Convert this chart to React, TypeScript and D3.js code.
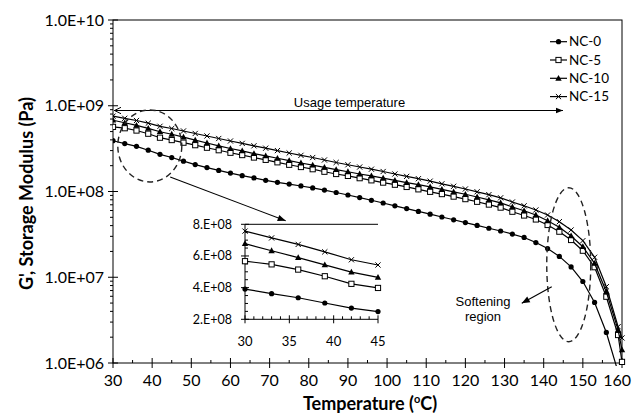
import React from "react";
import * as d3 from "d3";

// Temperature sweep (°C); the last point is at the axis end
const temperature = [
  30, 33, 36, 39, 42, 45, 48, 51, 54, 57, 60, 63, 66, 69, 72, 75, 78, 81, 84, 87,
  90, 93, 96, 99, 102, 105, 108, 111, 114, 117, 120, 123, 126, 129, 132, 135,
  138, 141, 144, 147, 150, 153, 156, 159, 160,
];

// Storage modulus G' (Pa)
const nc0 = [
  3.91e8, 3.62e8, 3.36e8, 3.03e8, 2.71e8, 2.49e8, 2.26e8, 2.06e8, 1.9e8, 1.76e8,
  1.64e8, 1.53e8, 1.44e8, 1.35e8, 1.28e8, 1.22e8, 1.16e8, 1.1e8, 1.04e8, 9.73e7,
  9.1e7, 8.49e7, 7.9e7, 7.34e7, 6.81e7, 6.32e7, 5.86e7, 5.44e7, 5.04e7, 4.68e7,
  4.34e7, 4.02e7, 3.73e7, 3.46e7, 3.19e7, 2.91e7, 2.54e7, 2.16e7, 1.75e7, 1.32e7,
  8.92e6, 5.08e6, 2.27e6, 7.85e5,
];
const nc5 = [
  5.67e8, 5.47e8, 5.14e8, 4.72e8, 4.24e8, 3.98e8, 3.71e8, 3.47e8, 3.24e8, 3.03e8,
  2.83e8, 2.66e8, 2.49e8, 2.34e8, 2.19e8, 2.05e8, 1.93e8, 1.82e8, 1.7e8, 1.6e8,
  1.52e8, 1.43e8, 1.35e8, 1.27e8, 1.2e8, 1.13e8, 1.06e8, 9.92e7, 9.33e7, 8.72e7,
  8.15e7, 7.59e7, 7.04e7, 6.49e7, 5.81e7, 5.25e7, 4.72e7, 4.07e7, 3.4e7, 2.72e7,
  2.04e7, 1.31e7, 5.93e6, 2.12e6, 1.03e6,
];
const nc10 = [
  6.78e8, 6.33e8, 5.9e8, 5.44e8, 4.98e8, 4.65e8, 4.3e8, 3.98e8, 3.68e8, 3.41e8,
  3.17e8, 2.97e8, 2.77e8, 2.6e8, 2.44e8, 2.29e8, 2.15e8, 2.03e8, 1.91e8, 1.8e8,
  1.7e8, 1.6e8, 1.52e8, 1.43e8, 1.35e8, 1.27e8, 1.2e8, 1.13e8, 1.06e8, 9.92e7,
  9.28e7, 8.63e7, 8.0e7, 7.38e7, 6.6e7, 5.96e7, 5.32e7, 4.56e7, 3.82e7, 3.03e7,
  2.27e7, 1.45e7, 6.78e6, 2.43e6, 1.42e6,
];
const nc15 = [
  7.57e8, 7.14e8, 6.73e8, 6.26e8, 5.76e8, 5.43e8, 5.08e8, 4.75e8, 4.44e8, 4.15e8,
  3.88e8, 3.64e8, 3.41e8, 3.2e8, 3.0e8, 2.81e8, 2.64e8, 2.49e8, 2.33e8, 2.18e8,
  2.05e8, 1.93e8, 1.82e8, 1.71e8, 1.6e8, 1.5e8, 1.41e8, 1.32e8, 1.23e8, 1.15e8,
  1.07e8, 9.92e7, 9.18e7, 8.44e7, 7.54e7, 6.81e7, 6.09e7, 5.32e7, 4.45e7, 3.56e7,
  2.67e7, 1.71e7, 7.76e6, 2.65e6, 1.96e6,
];

const seriesNames = ["NC-0", "NC-5", "NC-10", "NC-15"];
const seriesValues = [nc0, nc5, nc10, nc15];
const seriesMarkers = ["circle", "square", "triangle", "cross"];

const xTicks = [30, 40, 50, 60, 70, 80, 90, 100, 110, 120, 130, 140, 150, 160];
const yTickLabels = ["1.0E+06", "1.0E+07", "1.0E+08", "1.0E+09", "1.0E+10"];
const yTicks = [1e6, 1e7, 1e8, 1e9, 1e10];

const insetXTicks = [30, 35, 40, 45];
const insetYTicks = [2e8, 4e8, 6e8, 8e8];
const insetYLabels = ["2.E+08", "4.E+08", "6.E+08", "8.E+08"];

const W = 633;
const H = 417;
const M = { left: 113, right: 622, top: 20, bottom: 363 };
const INSET = { left: 245, right: 378, top: 224.3, bottom: 319.3 };

const LABEL_FONT = "Lato, 'Open Sans', sans-serif";
const NOTE_FONT = "'Liberation Sans', Arial, sans-serif";

function Marker({ kind, cx, cy }: { kind: string; cx: number; cy: number }) {
  if (kind === "circle") return <circle cx={cx} cy={cy} r={2.6} fill="#000" />;
  if (kind === "square")
    return (
      <rect x={cx - 2.6} y={cy - 2.6} width={5.2} height={5.2} fill="#fff" stroke="#000" strokeWidth={1} />
    );
  if (kind === "triangle")
    return <path d={`M${cx},${cy - 3.4}L${cx + 3.2},${cy + 2.4}L${cx - 3.2},${cy + 2.4}Z`} fill="#000" />;
  return (
    <path
      d={`M${cx - 2.6},${cy - 2.6}L${cx + 2.6},${cy + 2.6}M${cx - 2.6},${cy + 2.6}L${cx + 2.6},${cy - 2.6}`}
      stroke="#000"
      strokeWidth={1}
    />
  );
}

function arrowHead(x1: number, y1: number, x2: number, y2: number, len = 7, half = 3) {
  const a = Math.atan2(y2 - y1, x2 - x1);
  const bx = x2 - len * Math.cos(a);
  const by = y2 - len * Math.sin(a);
  const px = -Math.sin(a) * half;
  const py = Math.cos(a) * half;
  return `M${x2},${y2}L${bx + px},${by + py}L${bx - px},${by - py}Z`;
}

export default function App() {
  const x = d3.scaleLinear().domain([30, 160]).range([M.left, M.right]);
  const y = d3.scaleLog().domain([1e6, 1e10]).range([M.bottom, M.top]);
  const xi = d3.scaleLinear().domain([30, 45]).range([INSET.left, INSET.right]);
  const yi = d3.scaleLinear().domain([2e8, 8e8]).range([INSET.bottom, INSET.top]);

  const minorY: number[] = [];
  for (let e = 6; e < 10; e++) for (let k = 2; k <= 9; k++) minorY.push(k * Math.pow(10, e));
  const minorX = d3.range(35, 160, 10);

  const insetMinorX = d3.range(30, 45.01, 1).filter((t) => t % 5 !== 0);
  const insetMinorY = d3.range(2.5e8, 8e8, 0.5e8).filter((v) => Math.round(v / 1e8 * 2) % 4 !== 0);

  const line = (sx: any, sy: any) =>
    d3
      .line<[number, number]>()
      .x((d) => sx(d[0]))
      .y((d) => sy(d[1]));

  const mainLine = line(x, y);
  const insetLine = line(xi, yi);

  const pairs = seriesValues.map((vals) => vals.map((v, i) => [temperature[i], v] as [number, number]));
  const insetPairs = pairs.map((p) => p.filter((d) => d[0] <= 45));

  const legendY = [41.7, 60, 78.3, 96.6];

  // annotation geometry placed through the chart scales
  const usageY = y(8.8e8);
  const ell1 = { cx: x(39.4), cy: y(3.4e8), rx: 32, ry: 36 };
  const ell2 = { cx: x(146.4), cy: y(1.4e7), rx: 22, ry: 77 };
  const zoomArrow = { x1: x(44.6), y1: y(1.48e8), x2: x(74.1), y2: INSET.top - 3.5 };
  const softArrow = { x1: x(142.05), y1: y(7.75e6), x2: x(134.4), y2: y(4.97e6) };

  return (
    <svg
      width={W}
      height={H}
      viewBox={`0 0 ${W} ${H}`}
      style={{ position: "absolute", left: 0, top: 0, background: "#fff" }}
    >
      <defs>
        <clipPath id="plotClip">
          <rect x={M.left} y={M.top} width={M.right - M.left + 6} height={M.bottom - M.top + 3} />
        </clipPath>
        <clipPath id="insetClip">
          <rect x={INSET.left - 4} y={INSET.top - 4} width={INSET.right - INSET.left + 8} height={INSET.bottom - INSET.top + 8} />
        </clipPath>
      </defs>

      {/* plot frame */}
      <rect x={M.left} y={M.top} width={M.right - M.left} height={M.bottom - M.top} fill="none" stroke="#000" strokeWidth={1} />

      {/* y axis ticks */}
      {yTicks.map((v, i) => (
        <g key={"yt" + i}>
          <line x1={M.left - 5} x2={M.left + 5} y1={y(v)} y2={y(v)} stroke="#000" />
          <text x={M.left - 9} y={y(v)} dy="0.35em" textAnchor="end" fontFamily={LABEL_FONT} fontSize={16} fill="#000">
            {yTickLabels[i]}
          </text>
        </g>
      ))}
      {minorY.map((v, i) => (
        <line key={"ym" + i} x1={M.left - 3} x2={M.left} y1={y(v)} y2={y(v)} stroke="#000" />
      ))}

      {/* x axis ticks */}
      {xTicks.map((t, i) => {
        const last = i === xTicks.length - 1;
        return (
          <g key={"xt" + t}>
            <line x1={x(t)} x2={x(t)} y1={M.bottom - 5} y2={M.bottom + 5} stroke="#000" />
            <text
              x={last ? W - 2 : x(t)}
              y={M.bottom + 23}
              textAnchor={last ? "end" : "middle"}
              fontFamily={LABEL_FONT}
              fontSize={16}
              fill="#000"
            >
              {t}
            </text>
          </g>
        );
      })}
      {minorX.map((t) => (
        <line key={"xm" + t} x1={x(t)} x2={x(t)} y1={M.bottom - 3} y2={M.bottom} stroke="#000" />
      ))}

      {/* axis titles */}
      <text
        transform={`translate(27,${(M.top + M.bottom) / 2 + 2}) rotate(-90)`}
        textAnchor="middle"
        dy="0.35em"
        fontFamily={LABEL_FONT}
        fontWeight="bold"
        fontSize={18}
        fill="#000"
      >
        G', Storage Modulus (Pa)
      </text>
      <text x={370} y={410} textAnchor="middle" fontFamily={LABEL_FONT} fontWeight="bold" fontSize={18} fill="#000">
        Temperature (
        <tspan fontSize={11} dy={-7}>o</tspan>
        <tspan dy={7}>C)</tspan>
      </text>

      {/* series */}
      <g clipPath="url(#plotClip)">
        {pairs.map((p, si) => (
          <g key={"s" + si}>
            <path d={mainLine(p) || ""} fill="none" stroke="#000" strokeWidth={1.2} />
            {p.map((d, i) => (
              <Marker key={i} kind={seriesMarkers[si]} cx={x(d[0])} cy={y(d[1])} />
            ))}
          </g>
        ))}
      </g>

      {/* legend */}
      {seriesNames.map((name, i) => (
        <g key={"lg" + i}>
          <line x1={550} x2={567} y1={legendY[i]} y2={legendY[i]} stroke="#000" strokeWidth={1.2} />
          <Marker kind={seriesMarkers[i]} cx={558.5} cy={legendY[i]} />
          <text x={569} y={legendY[i]} dy="0.35em" fontFamily={LABEL_FONT} fontSize={13.5} fill="#000">
            {name}
          </text>
        </g>
      ))}

      {/* usage temperature range */}
      <line x1={M.left + 1} x2={563} y1={usageY} y2={usageY} stroke="#000" strokeWidth={1.1} />
      <path
        d={`M${M.left + 8},${usageY - 3.2}L${M.left + 1.5},${usageY}L${M.left + 8},${usageY + 3.2}`}
        fill="none"
        stroke="#000"
        strokeWidth={1}
      />
      <path d={arrowHead(M.left, usageY, 563, usageY, 7, 2.8)} fill="#000" />
      <text x={349.5} y={usageY - 4} textAnchor="middle" fontFamily={NOTE_FONT} fontSize={13} fill="#000">
        Usage temperature
      </text>

      {/* highlighted regions */}
      <ellipse cx={ell1.cx} cy={ell1.cy} rx={ell1.rx} ry={ell1.ry} fill="none" stroke="#222" strokeWidth={1.4} strokeDasharray="6 4" />
      <ellipse cx={ell2.cx} cy={ell2.cy} rx={ell2.rx} ry={ell2.ry} fill="none" stroke="#222" strokeWidth={1.4} strokeDasharray="6 4" />

      <line x1={zoomArrow.x1} y1={zoomArrow.y1} x2={zoomArrow.x2} y2={zoomArrow.y2} stroke="#000" strokeWidth={1.1} />
      <path d={arrowHead(zoomArrow.x1, zoomArrow.y1, zoomArrow.x2, zoomArrow.y2, 8, 3.2)} fill="#000" />

      <line x1={softArrow.x1} y1={softArrow.y1} x2={softArrow.x2} y2={softArrow.y2} stroke="#000" strokeWidth={1.1} />
      <path d={arrowHead(softArrow.x1, softArrow.y1, softArrow.x2, softArrow.y2, 8, 3.2)} fill="#000" />
      <text x={483} y={306} textAnchor="middle" fontFamily={NOTE_FONT} fontSize={13} fill="#000">
        Softening
      </text>
      <text x={483} y={321} textAnchor="middle" fontFamily={NOTE_FONT} fontSize={13} fill="#000">
        region
      </text>

      {/* inset: 30–45 °C, linear scale */}
      <g>
        <line x1={INSET.left} x2={INSET.right} y1={INSET.top} y2={INSET.top} stroke="#000" strokeWidth={1} />
        <line x1={INSET.left} x2={INSET.left} y1={INSET.top} y2={INSET.bottom} stroke="#000" strokeWidth={1} />
        <line x1={INSET.left} x2={INSET.right} y1={INSET.bottom} y2={INSET.bottom} stroke="#000" strokeWidth={1} />
        {insetYTicks.map((v, i) => (
          <g key={"iyt" + i}>
            <line x1={INSET.left - 4} x2={INSET.left + 4} y1={yi(v)} y2={yi(v)} stroke="#000" />
            <text x={INSET.left - 13} y={yi(v)} dy="0.35em" textAnchor="end" fontFamily={LABEL_FONT} fontSize={12.5} fill="#000">
              {insetYLabels[i]}
            </text>
          </g>
        ))}
        {insetMinorY.map((v, i) => (
          <line key={"iym" + i} x1={INSET.left} x2={INSET.left + 3} y1={yi(v)} y2={yi(v)} stroke="#000" />
        ))}
        {insetXTicks.map((t) => (
          <g key={"ixt" + t}>
            <line x1={xi(t)} x2={xi(t)} y1={INSET.bottom - 4} y2={INSET.bottom + 4} stroke="#000" />
            <text x={xi(t)} y={INSET.bottom + 27} textAnchor="middle" fontFamily={LABEL_FONT} fontSize={13} fill="#000">
              {t}
            </text>
          </g>
        ))}
        {insetMinorX.map((t) => (
          <line key={"ixm" + t} x1={xi(t)} x2={xi(t)} y1={INSET.bottom - 3} y2={INSET.bottom} stroke="#000" />
        ))}
        <g clipPath="url(#insetClip)">
          {insetPairs.map((p, si) => (
            <g key={"is" + si}>
              <path d={insetLine(p) || ""} fill="none" stroke="#000" strokeWidth={1.2} />
              {p.map((d, i) => (
                <Marker key={i} kind={seriesMarkers[si]} cx={xi(d[0])} cy={yi(d[1])} />
              ))}
            </g>
          ))}
        </g>
      </g>
    </svg>
  );
}
